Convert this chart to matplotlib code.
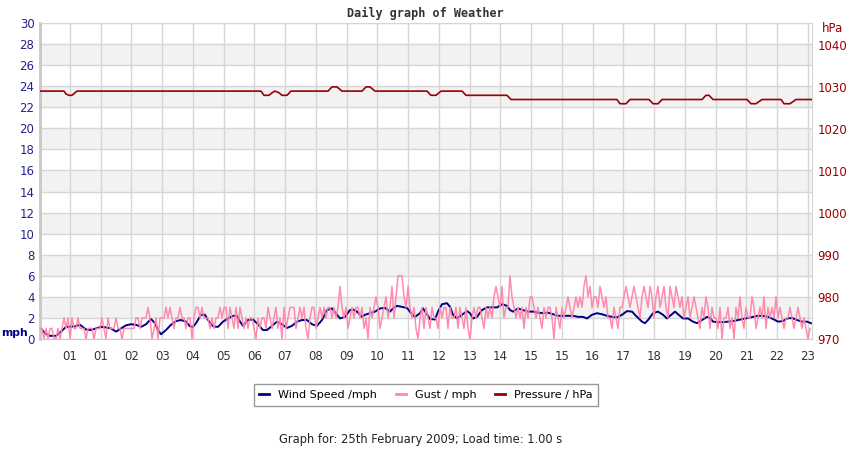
import matplotlib
matplotlib.use("Agg")
import matplotlib.pyplot as plt
import numpy as np
from matplotlib.lines import Line2D

# ---------------- data ----------------
# x axis = record index (0..772), one tick every ~30.7 records
x_labels = ["01", "01", "02", "03", "04", "05", "06", "07", "08", "09", "10", "11",
            "12", "13", "14", "15", "15", "16", "17", "18", "19", "20", "21", "22", "23"]

# gust (mph), one sample every 2 records
gust_step = 2
gust = [
    1, 1, 0, 1, 0, 1, 1, 0, 0, 1, 0, 1, 2, 1, 2,
    0, 2, 1, 1, 2, 1, 1, 1, 0, 1, 1, 1, 0, 1, 1,
    1, 2, 1, 0, 2, 1, 1, 1, 2, 1, 1, 0, 1, 1, 1,
    1, 1, 1, 2, 2, 1, 2, 2, 2, 3, 2, 0, 1, 2, 0,
    2, 2, 2, 3, 2, 3, 2, 1, 2, 2, 3, 2, 2, 1, 2,
    2, 0, 2, 3, 3, 2, 3, 2, 2, 2, 1, 2, 1, 2, 2,
    3, 2, 3, 3, 1, 3, 2, 1, 3, 1, 3, 2, 1, 2, 1,
    2, 2, 1, 0, 2, 1, 2, 2, 1, 3, 2, 1, 2, 3, 1,
    2, 0, 3, 1, 2, 3, 3, 3, 1, 2, 3, 2, 3, 1, 0,
    2, 3, 3, 1, 2, 3, 2, 3, 2, 3, 3, 2, 3, 2, 3,
    5, 3, 2, 3, 1, 2, 3, 2, 3, 3, 2, 3, 1, 2, 0,
    3, 2, 3, 4, 3, 1, 2, 3, 4, 2, 3, 5, 2, 4, 6,
    6, 6, 4, 3, 5, 3, 2, 3, 1, 0, 2, 3, 1, 3, 2,
    1, 3, 2, 2, 1, 3, 2, 3, 3, 1, 3, 2, 2, 3, 1,
    3, 2, 1, 3, 1, 0, 2, 3, 2, 3, 3, 2, 1, 3, 2,
    3, 2, 4, 5, 4, 3, 5, 2, 3, 3, 6, 4, 3, 2, 3,
    2, 3, 1, 3, 2, 4, 4, 3, 2, 3, 2, 1, 3, 2, 3,
    3, 2, 0, 3, 2, 1, 3, 2, 3, 4, 3, 2, 3, 4, 3,
    4, 3, 5, 6, 4, 5, 3, 4, 4, 3, 5, 4, 3, 4, 2,
    2, 1, 3, 2, 1, 3, 3, 4, 5, 4, 3, 4, 5, 4, 3,
    2, 4, 5, 4, 3, 5, 4, 2, 4, 5, 3, 4, 5, 3, 2,
    5, 4, 3, 5, 4, 3, 4, 2, 3, 4, 2, 3, 4, 3, 2,
    1, 3, 2, 4, 3, 1, 3, 2, 2, 1, 3, 0, 2, 2, 3,
    1, 2, 0, 3, 2, 4, 2, 1, 3, 2, 2, 4, 3, 1, 2,
    3, 2, 4, 1, 3, 2, 3, 2, 4, 2, 3, 2, 1, 2, 2,
    3, 2, 1, 2, 3, 2, 1, 2, 1, 0, 1,
]

wind_x = [1, 5, 10, 16, 21, 26, 35, 40, 46, 51, 56, 61, 66, 71, 76, 81, 86, 91, 96, 101,
          106, 111, 115, 118, 121, 126, 131, 136, 141, 146, 150, 153, 156, 161, 165, 168,
          173, 178, 183, 188, 193, 197, 200, 203, 208, 213, 218, 223, 227, 232, 237, 242,
          247, 252, 257, 262, 267, 272, 277, 282, 287, 292, 297, 300, 305, 310, 313, 317,
          322, 325, 330, 335, 340, 345, 350, 353, 357, 362, 367, 372, 375, 380, 383, 387,
          390, 395, 398, 402, 407, 410, 413, 417, 422, 427, 430, 433, 437, 442, 447, 452,
          457, 462, 467, 470, 473, 478, 483, 488, 493, 498, 503, 508, 513, 518, 523, 528,
          533, 538, 543, 547, 552, 557, 562, 567, 572, 577, 582, 587, 592, 597, 602, 605,
          608, 613, 618, 623, 627, 630, 635, 638, 643, 648, 653, 657, 662, 667, 670, 673,
          678, 683, 688, 693, 698, 703, 708, 713, 718, 723, 728, 733, 738, 743, 747, 752,
          757, 762, 767, 771]
wind = [1.0, 0.55, 0.3, 0.3, 0.7, 1.15, 1.2, 1.35, 0.9, 0.85, 1.0, 1.15, 1.1, 1.0, 0.7, 1.0,
        1.3, 1.4, 1.35, 1.15, 1.4, 1.9, 1.5, 0.85, 0.45, 0.85, 1.35, 1.7, 1.8, 1.65, 1.2,
        1.15, 1.5, 2.3, 2.3, 1.8, 1.2, 1.15, 1.65, 1.95, 2.2, 2.2, 1.65, 1.25, 1.8, 1.85,
        1.4, 0.85, 0.85, 1.25, 1.65, 1.4, 1.05, 1.25, 1.65, 1.8, 1.8, 1.4, 1.25, 1.8, 2.75,
        2.9, 2.3, 1.95, 2.1, 2.75, 2.8, 2.6, 2.1, 2.3, 2.45, 2.6, 2.9, 2.95, 2.6, 2.9, 3.15,
        3.05, 2.95, 2.35, 2.1, 2.45, 2.9, 2.35, 1.9, 1.85, 2.6, 3.3, 3.4, 3.05, 2.3, 1.95,
        2.3, 2.65, 2.45, 1.95, 2.1, 2.75, 3.0, 3.0, 3.0, 3.3, 3.15, 2.75, 2.6, 2.9, 2.75,
        2.6, 2.6, 2.5, 2.45, 2.5, 2.35, 2.2, 2.2, 2.2, 2.2, 2.1, 2.1, 1.95, 2.3, 2.45, 2.35,
        2.2, 2.1, 2.05, 2.3, 2.65, 2.6, 2.1, 1.65, 1.5, 1.8, 2.45, 2.6, 2.3, 1.95, 2.2, 2.6,
        2.35, 1.95, 1.95, 1.65, 1.5, 1.8, 2.1, 2.0, 1.65, 1.6, 1.6, 1.65, 1.7, 1.8, 1.9,
        2.0, 2.1, 2.2, 2.2, 2.1, 1.9, 1.65, 1.7, 1.95, 2.0, 1.8, 1.65, 1.65, 1.5]

press_x = [0, 24, 26, 29, 32, 37, 221, 224, 229, 232, 235, 239, 242, 247, 251, 288, 292,
           297, 302, 322, 326, 330, 335, 387, 391, 396, 401, 422, 426, 467, 471, 577, 580,
           586, 590, 609, 613, 618, 622, 662, 666, 669, 673, 707, 711, 716, 722, 741, 744,
           750, 756, 772]
press = [1029, 1029, 1028.3, 1028, 1028, 1029, 1029, 1028, 1028, 1028.6, 1029, 1028.6,
         1028, 1028, 1029, 1029, 1030, 1030, 1029, 1029, 1030, 1030, 1029, 1029, 1028,
         1028, 1029, 1029, 1028, 1028, 1027, 1027, 1026, 1026, 1027, 1027, 1026, 1026,
         1027, 1027, 1028, 1028, 1027, 1027, 1026, 1026, 1027, 1027, 1026, 1026, 1027, 1027]

# ---------------- styling ----------------
C_WIND = "#000080"
C_GUST = "#ff85aa"
C_PRESS = "#990000"
C_LEFT = "#23238e"
C_GRID = "#d6d6d6"

fig = plt.figure(figsize=(8.5, 4.5), dpi=100)
W, H = 850, 450
ax = fig.add_axes([40 / W, 1 - 339 / H, (812 - 40) / W, (339 - 23) / H])

n_records = 772
ax.set_xlim(0, n_records)
ax.set_ylim(0, 30)

for lo in range(2, 28, 4):
    ax.axhspan(lo, lo + 2, color="#f2f2f2", lw=0, zorder=0)

ax.set_yticks(range(0, 31, 2))
tick_step = 30.74
ax.set_xticks([30 + tick_step * i for i in range(len(x_labels))])
ax.set_xticklabels(x_labels)
ax.grid(True, color=C_GRID, lw=1, zorder=0.5)
ax.set_axisbelow(True)
ax.tick_params(axis="both", length=0, labelsize=8.5)
ax.tick_params(axis="x", pad=8, colors="#333333")
ax.tick_params(axis="y", pad=4, colors=C_LEFT)
for s in ["top", "right"]:
    ax.spines[s].set_color(C_GRID)
ax.spines["left"].set_color("#c8c8c8")
ax.spines["left"].set_linewidth(2)
ax.spines["bottom"].set_color("#c8c8c8")

gx = np.arange(len(gust)) * gust_step
ax.plot(wind_x, wind, color=C_WIND, lw=1.4, zorder=2)
ax.plot(gx, gust, color=C_GUST, lw=1.1, zorder=3, alpha=0.95)

ax2 = ax.twinx()
ax2.set_ylim(970, 970 + 30 * 2.507)
ax2.set_yticks(range(970, 1041, 10))
ax2.tick_params(axis="y", length=0, labelsize=8.5, pad=4, colors=C_PRESS)
for s in ax2.spines.values():
    s.set_visible(False)
ax2.plot(press_x, press, color=C_PRESS, lw=1.2, zorder=4)

fig.text(425 / W, 1 - 13 / H, "Daily graph of Weather", ha="center", va="center",
         family="DejaVu Sans Mono", fontweight="bold", fontsize=8.5, color="#333333")
fig.text(1 / W, 1 - 333 / H, "mph", ha="left", va="center", fontweight="bold",
         fontsize=7.8, color=C_WIND)
fig.text(822 / W, 1 - 29 / H, "hPa", ha="left", va="center", fontsize=8.5, color=C_PRESS)

handles = [Line2D([], [], color=C_WIND, lw=2),
           Line2D([], [], color=C_GUST, lw=2),
           Line2D([], [], color=C_PRESS, lw=2)]
leg = fig.legend(handles, ["Wind Speed /mph", "Gust / mph", "Pressure / hPa"],
                 loc="center", bbox_to_anchor=(426 / W, 1 - 395 / H), ncol=3,
                 fontsize=8, frameon=True, fancybox=False, handlelength=0.9,
                 handletextpad=0.8, columnspacing=1.7, borderpad=0.5)
leg.get_frame().set_edgecolor("#808080")
leg.get_frame().set_linewidth(1)

fig.text(421 / W, 1 - 439 / H, "Graph for: 25th February 2009; Load time: 1.00 s",
         ha="center", va="center", fontsize=8.3, color="#222222")

fig.savefig("out.png", dpi=100)
